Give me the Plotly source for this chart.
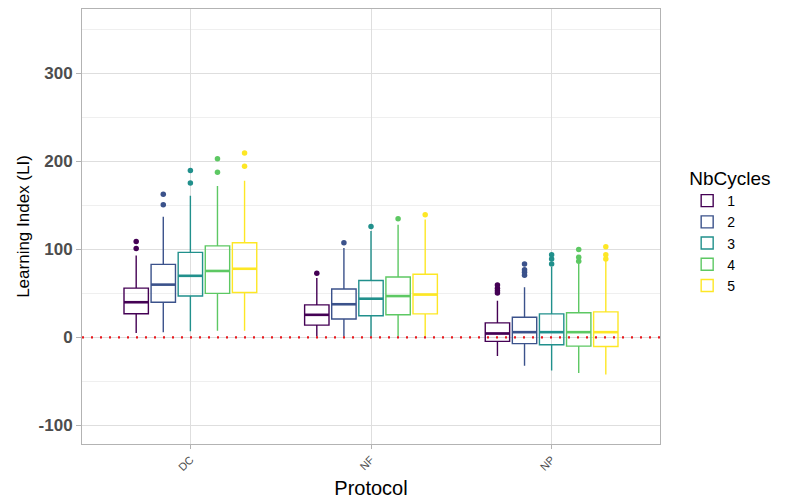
import plotly.graph_objects as go

protocols = ["DC", "NF", "NP"]
cycles = ["1", "2", "3", "4", "5"]
colors = ["#440154", "#3B528B", "#21908C", "#5DC863", "#FDE725"]

# box statistics per NbCycles, one value per protocol (DC, NF, NP)
q1 = [[27, 14, -4.5], [40, 21, -7], [47, 24.6, -8.3], [50, 25.7, -9.8], [51, 26.8, -10.2]]
median = [[40, 25.7, 4.5], [60, 37.7, 6], [70, 44, 6], [75.5, 47, 6], [78, 48.7, 6]]
q3 = [[56, 37, 16.6], [83, 55, 23], [96.6, 64.6, 26.8], [104, 68.7, 28], [107.6, 71.7, 29]]
lower = [[5, 1, -21], [6, 1, -32], [7, 1, -37.4], [7.5, 1, -40.4], [7.5, 1, -42]]
upper = [[93, 67.6, 41.6], [137, 101.6, 57], [161, 121, 80], [172, 128, 84], [178, 134, 87]]

# outliers: (protocol, value) per NbCycles
outliers = [
    [("DC", 101), ("DC", 109), ("NF", 72.8), ("NP", 50.5), ("NP", 53), ("NP", 56), ("NP", 59.7)],
    [("DC", 150.6), ("DC", 162.7), ("NF", 107.6), ("NP", 70.6), ("NP", 74), ("NP", 77), ("NP", 83.5)],
    [("DC", 175.5), ("DC", 189.5), ("NF", 126), ("NP", 83.5), ("NP", 89), ("NP", 94)],
    [("DC", 187.6), ("DC", 203), ("NF", 134.8), ("NP", 86.4), ("NP", 91), ("NP", 100)],
    [("DC", 194.4), ("DC", 209.5), ("NF", 139.3), ("NP", 89), ("NP", 94), ("NP", 103)],
]

dodge = 0.75
n = len(cycles)
step = dodge / n
box_w = step * 0.9

def pos(pidx, gidx):
    return (pidx + 1) + (gidx - (n - 1) / 2) * step

fig = go.Figure()
for g, cyc in enumerate(cycles):
    xs = [pos(p, g) for p in range(len(protocols))]
    fig.add_trace(go.Box(
        x=xs, q1=q1[g], median=median[g], q3=q3[g],
        lowerfence=lower[g], upperfence=upper[g],
        name=cyc,
        line=dict(color=colors[g], width=1.4),
        fillcolor="rgba(255,255,255,0)",
        whiskerwidth=0, width=box_w, boxpoints=False,
        hoverinfo="skip",
    ))
    # thicker median segments (ggplot style)
    mx, my = [], []
    for p in range(len(protocols)):
        mx += [xs[p] - box_w / 2, xs[p] + box_w / 2, None]
        my += [median[g][p], median[g][p], None]
    fig.add_trace(go.Scatter(
        x=mx, y=my, mode="lines", showlegend=False,
        line=dict(color=colors[g], width=2.6), hoverinfo="skip",
    ))
    ox = [pos(protocols.index(c), g) for c, v in outliers[g]]
    oy = [v for c, v in outliers[g]]
    fig.add_trace(go.Scatter(
        x=ox, y=oy, mode="markers", showlegend=False,
        marker=dict(color=colors[g], size=5.5), hoverinfo="skip",
    ))

fig.add_hline(y=0, line=dict(color="#E8191E", width=2.2, dash="2px,7px"), layer="above")

font_family = "Liberation Sans, Arial, sans-serif"
fig.update_layout(
    width=780, height=494,
    margin=dict(l=74, r=128, t=1, b=58),
    paper_bgcolor="white", plot_bgcolor="white",
    font=dict(family=font_family, color="black"),
    showlegend=True,
    legend=dict(
        title=dict(text="NbCycles", font=dict(size=19, color="black")),
        font=dict(size=14, color="black"),
        x=1.047, xanchor="left", y=0.49, yanchor="middle",
        bgcolor="rgba(0,0,0,0)", tracegroupgap=0,
        itemwidth=30,
    ),
    xaxis=dict(
        range=[0.4, 3.6],
        tickmode="array", tickvals=[1, 2, 3], ticktext=protocols,
        tickangle=-45, tickfont=dict(size=11, color="#4D4D4D", family=font_family),
        ticks="outside", ticklen=4, tickcolor="#B3B3B3",
        showgrid=True, gridcolor="#DEDEDE", gridwidth=1,
        showline=True, linecolor="#B3B3B3", linewidth=1, mirror=True,
        zeroline=False,
        title=dict(text="Protocol", font=dict(size=20, color="black"), standoff=8),
    ),
    yaxis=dict(
        range=[-121, 373],
        tickmode="array", tickvals=[-100, 0, 100, 200, 300],
        ticktext=["-100", "0", "100", "200", "300"],
        tickfont=dict(size=17, color="#4D4D4D", family=font_family, weight="bold"),
        ticks="outside", ticklen=5, tickcolor="#B3B3B3",
        showgrid=True, gridcolor="#DEDEDE", gridwidth=1,
        minor=dict(tickvals=[-150, -50, 50, 150, 250, 350], showgrid=True, gridcolor="#EFEFEF", gridwidth=1, ticks=""),
        showline=True, linecolor="#B3B3B3", linewidth=1, mirror=True,
        zeroline=False,
        title=dict(text="Learning Index (LI)", font=dict(size=17, color="black"), standoff=4),
    ),
)

fig.write_html("out.html")
